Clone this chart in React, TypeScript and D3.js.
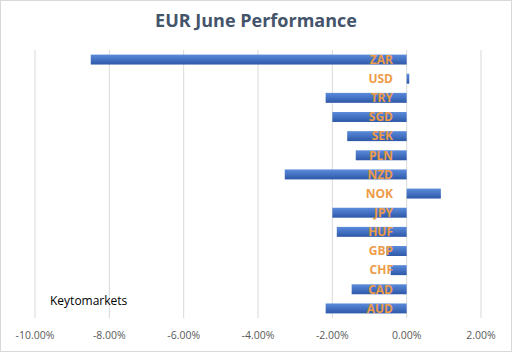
import * as d3 from 'd3';

const currencies = ['ZAR', 'USD', 'TRY', 'SGD', 'SEK', 'PLN', 'NZD', 'NOK', 'JPY', 'HUF', 'GBP', 'CHF', 'CAD', 'AUD'];
const performance = [-8.5, 0.07, -2.18, -2.0, -1.6, -1.37, -3.28, 0.92, -2.0, -1.88, -0.54, -0.43, -1.48, -2.18];
const xTicks = [-10, -8, -6, -4, -2, 0, 2];

const W = 512;
const H = 352;
const margin = { top: 50, right: 31, bottom: 34, left: 35 };

const App = () => {
  const x = d3.scaleLinear().domain([-10, 2]).range([margin.left, W - margin.right]);
  const y = d3
    .scaleBand()
    .domain(currencies)
    .range([margin.top, H - margin.bottom])
    .paddingInner(0.48)
    .paddingOuter(0.24);

  const fmt = (d: number) => d.toFixed(2) + '%';

  return (
    <svg width={W} height={H} style={{ position: 'absolute', left: 0, top: 0 }}>
      <defs>
        <linearGradient id="barGrad" x1="0" y1="0" x2="0" y2="1">
          <stop offset="0%" stopColor="#5B8BDB" />
          <stop offset="100%" stopColor="#2E58A8" />
        </linearGradient>
      </defs>
      <rect x={0.5} y={0.5} width={W - 1} height={H - 1} fill="#fff" stroke="#D9D9D9" />
      <text
        x={W / 2}
        y={27}
        textAnchor="middle"
        fontFamily="Open Sans, sans-serif"
        fontWeight="bold"
        fontSize={18}
        fill="#44546A"
      >
        EUR June Performance
      </text>
      {xTicks.map(t => (
        <line
          key={t}
          x1={x(t)}
          x2={x(t)}
          y1={margin.top}
          y2={H - margin.bottom}
          stroke="#D9D9D9"
          strokeWidth={1}
        />
      ))}
      {currencies.map((c, i) => {
        const v = performance[i];
        return (
          <rect
            key={c}
            x={Math.min(x(0), x(v))}
            y={y(c)}
            width={Math.abs(x(v) - x(0))}
            height={y.bandwidth()}
            fill="url(#barGrad)"
          />
        );
      })}
      {currencies.map(c => (
        <text
          key={c}
          x={393}
          y={(y(c) ?? 0) + y.bandwidth() / 2}
          dy="0.36em"
          textAnchor="end"
          fontFamily="Open Sans, sans-serif"
          fontWeight="bold"
          fontSize={12}
          fill="#ED9B48"
        >
          {c}
        </text>
      ))}
      {xTicks.map(t => (
        <text
          key={t}
          x={x(t)}
          y={339}
          textAnchor="middle"
          fontFamily="Open Sans, sans-serif"
          fontSize={10.5}
          fill="#595959"
        >
          {fmt(t)}
        </text>
      ))}
      <text x={50} y={305} fontFamily="Open Sans, sans-serif" fontSize={12} fill="#000">
        Keytomarkets
      </text>
    </svg>
  );
};

export default App;
